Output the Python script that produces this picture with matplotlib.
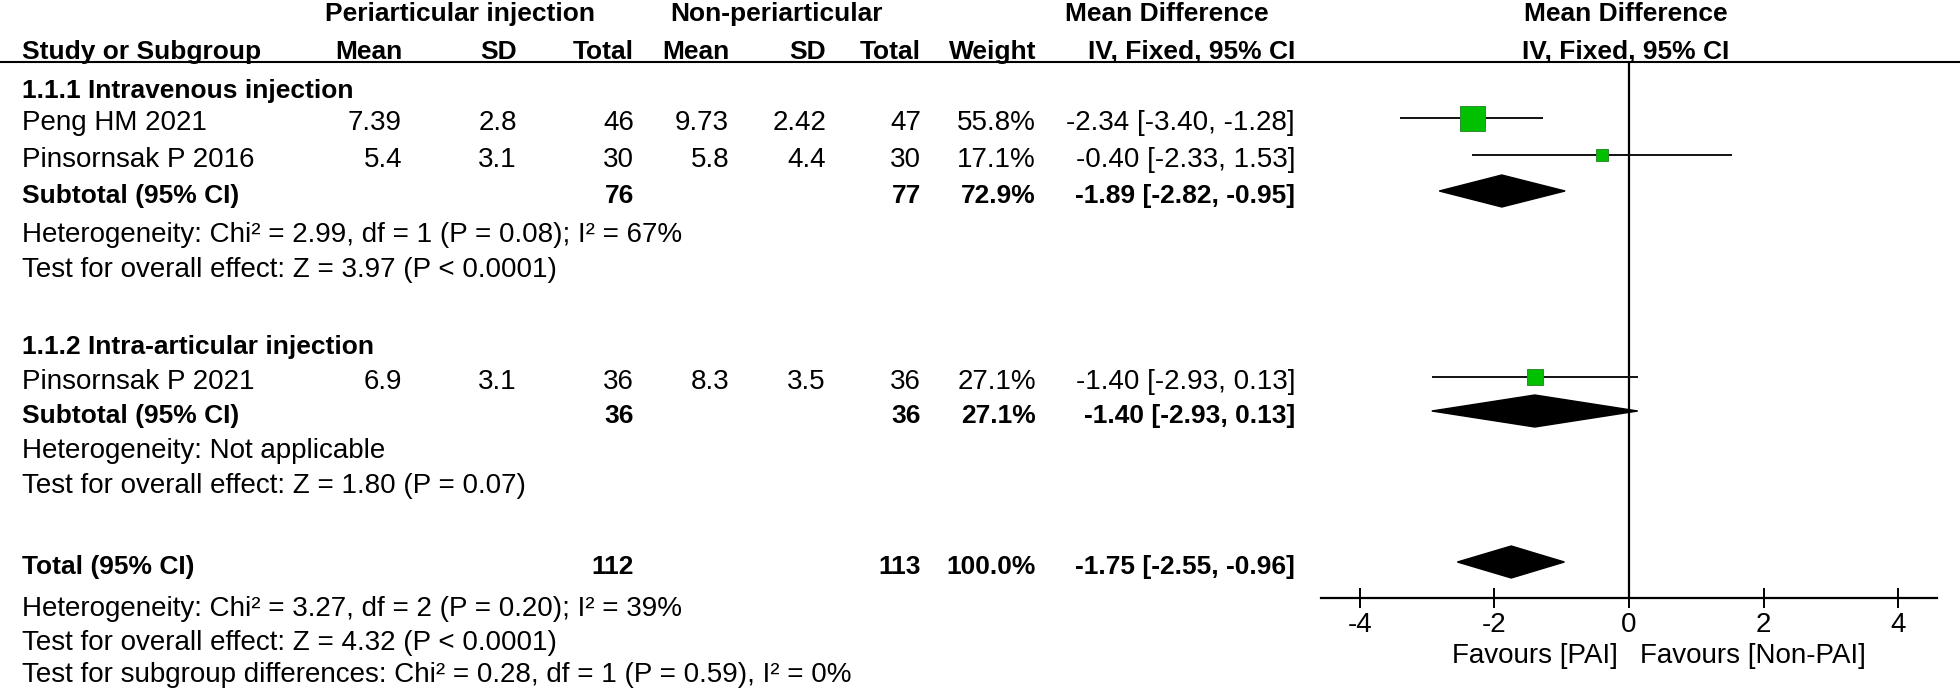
import matplotlib.pyplot as plt
from matplotlib.transforms import blended_transform_factory

plt.rcParams['font.family'] = ['Liberation Sans', 'DejaVu Sans']
plt.rcParams['axes.unicode_minus'] = False

# study level data
studies = ['Peng HM 2021', 'Pinsornsak P 2016', 'Pinsornsak P 2021']
exp_mean = [7.39, 5.4, 6.9]
exp_sd = [2.8, 3.1, 3.1]
exp_n = [46, 30, 36]
ctl_mean = [9.73, 5.8, 8.3]
ctl_sd = [2.42, 4.4, 3.5]
ctl_n = [47, 30, 36]
weights = [55.8, 17.1, 27.1]
md = [-2.34, -0.40, -1.40]
md_lo = [-3.40, -2.33, -2.93]
md_hi = [-1.28, 1.53, 0.13]

# subgroups
groups = ['1.1.1 Intravenous injection', '1.1.2 Intra-articular injection']
sub_exp_n = [76, 36]
sub_ctl_n = [77, 36]
sub_weight = [72.9, 27.1]
sub_md = [-1.89, -1.40]
sub_lo = [-2.82, -2.93]
sub_hi = [-0.95, 0.13]
sub_het = ['Heterogeneity: Chi² = 2.99, df = 1 (P = 0.08); I² = 67%',
           'Heterogeneity: Not applicable']
sub_test = ['Test for overall effect: Z = 3.97 (P < 0.0001)',
            'Test for overall effect: Z = 1.80 (P = 0.07)']

# overall
tot_exp_n, tot_ctl_n, tot_weight = 112, 113, 100.0
tot_md, tot_lo, tot_hi = -1.75, -2.55, -0.96
tot_notes = ['Heterogeneity: Chi² = 3.27, df = 2 (P = 0.20); I² = 39%',
             'Test for overall effect: Z = 4.32 (P < 0.0001)',
             'Test for subgroup differences: Chi² = 0.28, df = 1 (P = 0.59), I² = 0%']
ticks = [-4, -2, 0, 2, 4]
fav_left, fav_right = 'Favours [PAI]', 'Favours [Non-PAI]'

# layout (pixel rows / columns)
W, H = 1960, 690
group_y = [86, 342]
study_y = [118, 155, 377]
sub_y = [191, 411]
het_y = [230, 446]
test_y = [265, 481]
tot_y = 562
tot_notes_y = [609, 643, 675]
col_x = [402, 517, 634, 729, 826, 921, 1036, 1295]
left_x = 22
axis_y, rule_y = 598, 62
FS, FSB = 20, 19
TDY = 5   # text sits a little lower than the plot marks

fig = plt.figure(figsize=(W / 100, H / 100), dpi=100)
ax = fig.add_axes([0, 0, 1, 1])
ax.set_xlim(0, W)
ax.set_ylim(H, 0)
ax.axis('off')


def txt(x, y, s, ha='left', bold=False, dy=TDY):
    ax.text(x, y + dy, s, ha=ha, va='center', fontsize=FSB if bold else FS,
            fontweight='bold' if bold else 'normal')


# header
txt(460, 14, 'Periarticular injection', ha='center', bold=True, dy=0)
txt(776, 14, 'Non-periarticular', ha='center', bold=True, dy=0)
txt(1167, 14, 'Mean Difference', ha='center', bold=True, dy=0)
txt(1626, 14, 'Mean Difference', ha='center', bold=True, dy=0)
txt(left_x, 52, 'Study or Subgroup', bold=True, dy=0)
for x, h in zip(col_x, ['Mean', 'SD', 'Total', 'Mean', 'SD', 'Total', 'Weight', 'IV, Fixed, 95% CI']):
    txt(x, 52, h, ha='right', bold=True, dy=0)
txt(1626, 52, 'IV, Fixed, 95% CI', ha='center', bold=True, dy=0)
ax.plot([0, W], [rule_y, rule_y], color='black', lw=1.5)

# table body
for i, name in enumerate(studies):
    y = study_y[i]
    txt(left_x, y, name)
    vals = [f'{exp_mean[i]:g}', f'{exp_sd[i]:g}', f'{exp_n[i]}',
            f'{ctl_mean[i]:g}', f'{ctl_sd[i]:g}', f'{ctl_n[i]}',
            f'{weights[i]:.1f}%',
            f'{md[i]:.2f} [{md_lo[i]:.2f}, {md_hi[i]:.2f}]']
    for x, v in zip(col_x, vals):
        txt(x, y, v, ha='right')

for g, name in enumerate(groups):
    txt(left_x, group_y[g], name, bold=True)
    txt(left_x, sub_y[g], 'Subtotal (95% CI)', bold=True)
    txt(col_x[2], sub_y[g], str(sub_exp_n[g]), ha='right', bold=True)
    txt(col_x[5], sub_y[g], str(sub_ctl_n[g]), ha='right', bold=True)
    txt(col_x[6], sub_y[g], f'{sub_weight[g]:.1f}%', ha='right', bold=True)
    txt(col_x[7], sub_y[g], f'{sub_md[g]:.2f} [{sub_lo[g]:.2f}, {sub_hi[g]:.2f}]', ha='right', bold=True)
    txt(left_x, het_y[g], sub_het[g])
    txt(left_x, test_y[g], sub_test[g])

txt(left_x, tot_y, 'Total (95% CI)', bold=True)
txt(col_x[2], tot_y, str(tot_exp_n), ha='right', bold=True)
txt(col_x[5], tot_y, str(tot_ctl_n), ha='right', bold=True)
txt(col_x[6], tot_y, f'{tot_weight:.1f}%', ha='right', bold=True)
txt(col_x[7], tot_y, f'{tot_md:.2f} [{tot_lo:.2f}, {tot_hi:.2f}]', ha='right', bold=True)
for s, y in zip(tot_notes, tot_notes_y):
    txt(left_x, y, s, dy=0)

# forest panel
x0, x1 = 1321, 1937
fx = fig.add_axes([x0 / W, (H - axis_y) / H, (x1 - x0) / W, (axis_y - rule_y) / H])
fx.set_xlim(-4.577, 4.577)
fx.set_ylim(axis_y, rule_y)
fx.patch.set_alpha(0)
for s in ['top', 'right', 'left']:
    fx.spines[s].set_visible(False)
fx.spines['bottom'].set_linewidth(1.6)
fx.set_yticks([])
fx.set_xticks(ticks)
fx.set_xticklabels([f'{t:g}' for t in ticks])
fx.tick_params(axis='x', direction='inout', length=14, width=1.4, labelsize=FS, pad=3)
fx.axvline(0, color='black', lw=1.6, zorder=1)

for i in range(len(studies)):
    y = study_y[i]
    fx.hlines(y, md_lo[i], md_hi[i], color='#111111', lw=1.4, zorder=2)
    side = 25 * (weights[i] / max(weights)) ** 0.65 * 0.72
    fx.plot(md[i], y, marker='s', ms=side, mfc='#00c000', mec='#2e8b2e', mew=0.7, zorder=3)

dh = 16
for g in range(len(groups)):
    y = sub_y[g]
    fx.fill([sub_lo[g], sub_md[g], sub_hi[g], sub_md[g]], [y, y - dh, y, y + dh],
            color='black', zorder=3)
fx.fill([tot_lo, tot_md, tot_hi, tot_md], [tot_y, tot_y - dh, tot_y, tot_y + dh],
        color='black', zorder=3)

trans = blended_transform_factory(fx.transData, ax.transData)
ax.annotate(fav_left, xy=(0, 656), xycoords=trans, xytext=(-11, 0),
            textcoords='offset pixels', ha='right', va='center', fontsize=FS)
ax.annotate(fav_right, xy=(0, 656), xycoords=trans, xytext=(11, 0),
            textcoords='offset pixels', ha='left', va='center', fontsize=FS)

fig.savefig('out.png', dpi=100)
